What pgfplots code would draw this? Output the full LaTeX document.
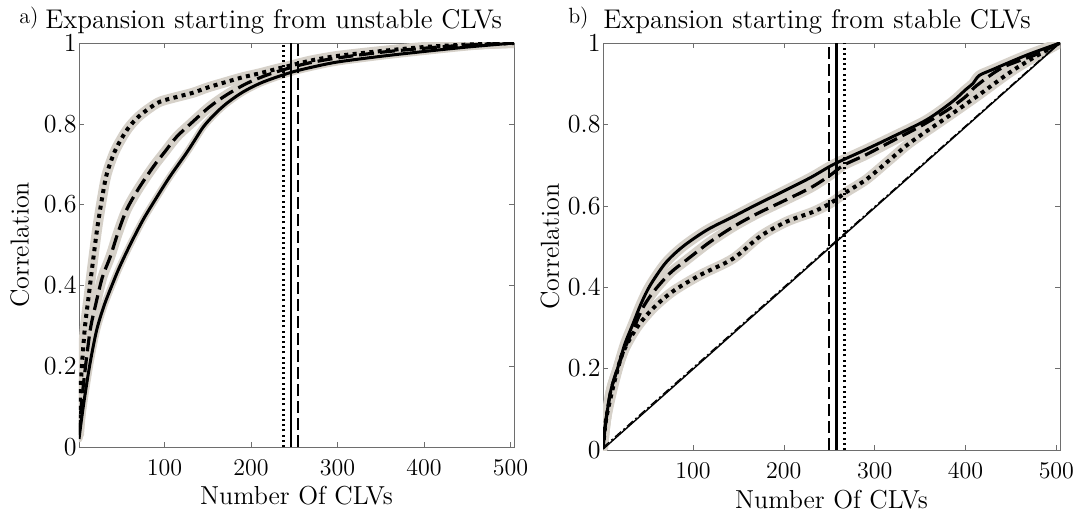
\documentclass[border=0pt]{standalone}
\usepackage{pgfplots}
\pgfplotsset{compat=1.18}
\definecolor{band}{RGB}{214,209,201}
\definecolor{boxgray}{RGB}{110,110,110}

\pgfplotsset{
  clv/.style={
    scale only axis,
    xmin=1, xmax=504, ymin=0, ymax=1,
    xtick={100,200,300,400,500},
    ytick={0,0.2,0.4,0.6,0.8,1},
    yticklabels={0,0.2,0.4,0.6,0.8,1},
    tick align=inside,
    major tick length=2.5pt,
    axis line style={boxgray},
    tick style={boxgray},
    tick label style={font=\fontsize{13}{15}\selectfont},
    label style={font=\fontsize{13}{15}\selectfont},
    xticklabel style={yshift=-3pt},
    yticklabel style={xshift=2.3pt},
    xlabel={Number Of CLVs},
    ylabel={Correlation},
  },
  bandline/.style={band, line width=5pt, line cap=round, line join=round, smooth},
  solidc/.style={black, line width=1.5pt, smooth},
  dashc/.style={black, line width=1.6pt, dash pattern=on 7.5pt off 3pt, smooth},
  dotc/.style={black, line width=2pt, dash pattern=on 2pt off 2.2pt, smooth},
  vsolid/.style={black, line width=1.2pt},
  vdash/.style={black, line width=1.2pt, dash pattern=on 6pt off 2.5pt},
  vdot/.style={black, line width=1.2pt, dash pattern=on 1pt off 1.6pt},
}

% panel a)
\pgfplotstableread{
x y
1 0.05
3 0.15
5 0.22
8 0.30
12 0.37
16 0.44
22 0.54
28 0.62
33 0.675
42 0.73
52 0.77
60 0.795
70 0.818
82 0.838
95 0.855
115 0.867
133 0.877
150 0.89
172 0.904
190 0.915
210 0.925
230 0.936
249 0.946
270 0.957
300 0.968
350 0.98
400 0.99
450 0.996
504 1
}\dotA
\pgfplotstableread{
x y
1 0.03
4 0.11
8 0.19
14 0.29
20 0.35
28 0.42
37 0.47
46 0.53
56 0.587
70 0.64
87 0.694
100 0.73
114 0.768
130 0.80
152 0.842
172 0.872
195 0.90
220 0.922
249 0.941
270 0.952
300 0.963
350 0.977
400 0.987
450 0.995
504 1
}\dashA
\pgfplotstableread{
x y
1 0.02
4 0.07
8 0.13
14 0.21
21.5 0.29
30 0.35
40 0.405
48 0.446
60 0.50
75 0.562
90 0.615
106 0.669
125 0.727
135 0.76
145 0.793
158 0.824
172 0.851
190 0.878
210 0.90
230 0.916
249 0.929
270 0.94
300 0.953
350 0.967
400 0.979
450 0.99
504 1
}\solidA

% panel b)
\pgfplotstableread{
x y
1 0.005
3 0.05
6 0.10
10 0.15
17 0.20
25 0.26
34 0.31
43 0.36
53 0.405
70 0.46
89 0.50
115 0.54
144 0.573
170 0.603
199 0.635
230 0.67
255 0.702
290 0.738
320 0.77
357 0.811
385 0.855
400 0.885
408 0.90
415 0.92
430 0.935
467 0.97
504 1
}\solidB
\pgfplotstableread{
x y
1 0.005
3 0.05
6 0.10
10 0.15
17 0.20
25 0.25
35 0.30
45 0.35
57 0.39
75 0.435
93 0.467
118 0.51
144 0.548
170 0.58
200 0.612
230 0.645
251 0.675
266 0.70
290 0.725
320 0.76
350 0.795
380 0.835
400 0.868
412 0.895
441 0.94
478 0.972
504 1
}\dashB
\pgfplotstableread{
x y
1 0.005
4 0.07
9 0.125
15 0.18
23 0.24
38 0.30
56 0.348
78 0.39
108 0.43
144 0.47
174 0.525
203 0.561
232 0.585
251 0.606
269 0.634
291 0.665
315 0.71
339 0.755
376 0.812
412 0.868
449 0.928
478 0.968
504 1
}\dotB

\begin{document}
\begin{tikzpicture}
\useasboundingbox (-39.5pt,-33.5pt) rectangle (503pt,223.5pt);

\begin{axis}[clv, at={(0pt,0pt)}, anchor=south west,
  width=217.5pt, height=202pt,
  xlabel style={at={(axis description cs:0.5,-0.121)}, anchor=center},
  ylabel style={at={(axis description cs:-0.136,0.5)}, anchor=center},
]
\addplot[bandline] table {\dotA};
\addplot[bandline] table {\dashA};
\addplot[bandline, line width=3.5pt] table {\solidA};
\addplot[solidc] table {\solidA};
\addplot[dashc] table {\dashA};
\addplot[dotc] table {\dotA};
\addplot[vdot] coordinates {(237.5,0) (237.5,1)};
\addplot[vsolid] coordinates {(246,0) (246,1)};
\addplot[vdash] coordinates {(254.5,0) (254.5,1)};
\end{axis}

\begin{axis}[clv, at={(262pt,-1.5pt)}, anchor=south west,
  width=228.5pt, height=203.5pt,
  xlabel style={at={(axis description cs:0.5,-0.123)}, anchor=center},
  ylabel style={at={(axis description cs:-0.116,0.5)}, anchor=center},
]
\addplot[bandline] table {\dotB};
\addplot[bandline] table {\dashB};
\addplot[bandline] table {\solidB};
\addplot[black, line width=0.7pt] coordinates {(1,0.002) (504,1)};
\addplot[black, line width=0.6pt, dash pattern=on 4pt off 1.5pt on 1pt off 1.5pt] coordinates {(1,0.006) (504,1.002)};
\addplot[solidc] table {\solidB};
\addplot[dashc] table {\dashB};
\addplot[dotc] table {\dotB};
\addplot[vdash] coordinates {(250,0) (250,1)};
\addplot[vsolid] coordinates {(258,0) (258,1)};
\addplot[vdot] coordinates {(267,0) (267,1)};
\end{axis}

\node[anchor=base east, inner sep=0pt, font=\fontsize{11}{13}\selectfont] at (-20pt,211.5pt) {a)};
\node[anchor=base west, inner sep=0pt, font=\fontsize{13.5}{15}\selectfont] at (-17pt,209pt) {Expansion starting from unstable CLVs};
\node[anchor=base east, inner sep=0pt, font=\fontsize{11}{13}\selectfont] at (255pt,211.5pt) {b)};
\node[anchor=base west, inner sep=0pt, font=\fontsize{13.5}{15}\selectfont] at (262pt,209pt) {Expansion starting from stable CLVs};
\end{tikzpicture}
\end{document}
